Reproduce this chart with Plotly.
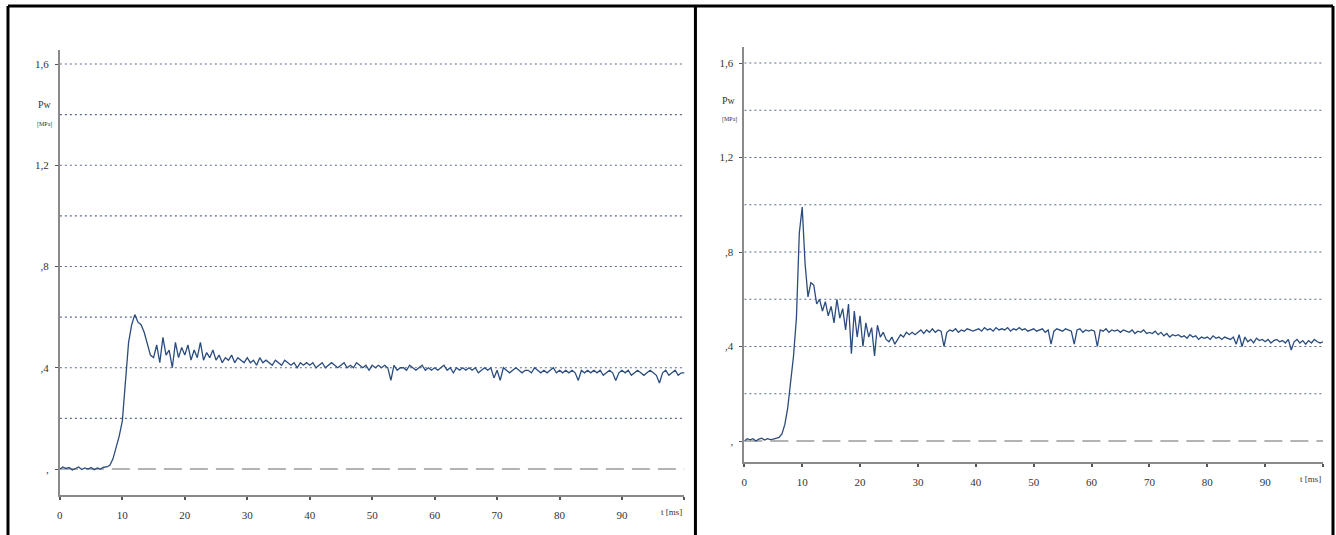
import plotly.graph_objects as go

# ---------------- data ----------------
t_ms = [i * 0.5 for i in range(201)]

pw_left = [
    0.00, 0.008, 0.002, 0.006, -0.004, 0.003, 0.008, -0.002, 0.004, 0.0,
    0.006, -0.003, 0.004, 0.0, 0.007, 0.008, 0.015, 0.04, 0.08, 0.13,
    0.19, 0.33, 0.50, 0.57, 0.61, 0.58, 0.57, 0.54, 0.49, 0.45,
    0.44, 0.49, 0.42, 0.52, 0.45, 0.47, 0.40, 0.50, 0.44, 0.48,
    0.45, 0.49, 0.43, 0.47, 0.44, 0.50, 0.43, 0.46, 0.44, 0.47,
    0.43, 0.45, 0.42, 0.44, 0.43, 0.45, 0.42, 0.44, 0.43, 0.42,
    0.44, 0.42, 0.43, 0.41, 0.44, 0.42, 0.43, 0.42, 0.41, 0.43,
    0.42, 0.41, 0.43, 0.42, 0.41, 0.42, 0.40, 0.42, 0.41, 0.42,
    0.41, 0.42, 0.40, 0.41, 0.42, 0.40, 0.41, 0.42, 0.41, 0.40,
    0.41, 0.42, 0.40, 0.41, 0.40, 0.42, 0.41, 0.40, 0.41, 0.39,
    0.41, 0.40, 0.41, 0.40, 0.41, 0.40, 0.35, 0.41, 0.39, 0.40,
    0.40, 0.39, 0.41, 0.40, 0.39, 0.40, 0.41, 0.39, 0.40, 0.39,
    0.40, 0.39, 0.40, 0.41, 0.39, 0.40, 0.38, 0.40, 0.39, 0.40,
    0.39, 0.40, 0.39, 0.40, 0.38, 0.39, 0.40, 0.39, 0.40, 0.36,
    0.39, 0.35, 0.40, 0.39, 0.38, 0.39, 0.40, 0.39, 0.38, 0.39,
    0.39, 0.38, 0.40, 0.39, 0.38, 0.39, 0.38, 0.39, 0.40, 0.38,
    0.39, 0.38, 0.39, 0.38, 0.39, 0.38, 0.35, 0.39, 0.38, 0.39,
    0.38, 0.39, 0.38, 0.39, 0.37, 0.38, 0.39, 0.38, 0.35, 0.38,
    0.39, 0.38, 0.39, 0.37, 0.38, 0.39, 0.38, 0.37, 0.38, 0.39,
    0.38, 0.37, 0.34, 0.38, 0.39, 0.37, 0.38, 0.39, 0.37, 0.38,
    0.38,
]

pw_right = [
    0.00, 0.01, 0.005, 0.01, 0.0, 0.008, 0.012, 0.004, 0.01, 0.006,
    0.008, 0.012, 0.015, 0.03, 0.07, 0.14, 0.24, 0.36, 0.52, 0.88,
    0.99, 0.75, 0.61, 0.67, 0.66, 0.58, 0.60, 0.55, 0.59, 0.53,
    0.57, 0.50, 0.60, 0.52, 0.56, 0.47, 0.58, 0.37, 0.55, 0.44,
    0.53, 0.40, 0.50, 0.44, 0.48, 0.36, 0.49, 0.44, 0.46, 0.43,
    0.42, 0.44, 0.41, 0.43, 0.45, 0.44, 0.46, 0.45, 0.46, 0.45,
    0.46, 0.47, 0.455, 0.47, 0.46, 0.475, 0.46, 0.47, 0.465, 0.40,
    0.46, 0.47, 0.465, 0.475, 0.46, 0.47, 0.465, 0.475, 0.47, 0.465,
    0.47, 0.475, 0.465, 0.48, 0.47, 0.475, 0.465, 0.48, 0.47, 0.475,
    0.47, 0.48, 0.465, 0.475, 0.47, 0.48, 0.47, 0.475, 0.465, 0.47,
    0.475, 0.465, 0.47, 0.475, 0.46, 0.47, 0.41, 0.465, 0.475, 0.47,
    0.465, 0.475, 0.47, 0.465, 0.41, 0.47, 0.475, 0.46, 0.47, 0.465,
    0.47, 0.465, 0.40, 0.47, 0.465, 0.475, 0.46, 0.47, 0.465, 0.47,
    0.46, 0.47, 0.465, 0.46, 0.47, 0.455, 0.465, 0.46, 0.47, 0.455,
    0.46, 0.455, 0.465, 0.45, 0.46, 0.445, 0.455, 0.44, 0.45, 0.445,
    0.45, 0.44, 0.445, 0.435, 0.45, 0.44, 0.445, 0.43, 0.44, 0.435,
    0.44, 0.43, 0.445, 0.435, 0.44, 0.43, 0.44, 0.435, 0.43, 0.44,
    0.41, 0.45, 0.40, 0.44, 0.42, 0.43, 0.415, 0.435, 0.425, 0.43,
    0.42, 0.43, 0.415, 0.425, 0.43, 0.42, 0.425, 0.415, 0.43, 0.385,
    0.42, 0.43, 0.415, 0.425, 0.41, 0.425, 0.415, 0.43, 0.42, 0.415,
    0.42,
]

x_tickvals = [0, 10, 20, 30, 40, 50, 60, 70, 80, 90, 100]
x_ticktext = ["0", "10", "20", "30", "40", "50", "60", "70", "80", "90", ""]
y_tickvals = [0, 0.4, 0.8, 1.2, 1.6]
y_ticktext = [",", ",4", ",8", "1,2", "1,6"]
grid_levels = [0.2, 0.4, 0.6, 0.8, 1.0, 1.2, 1.4, 1.6]

# ---------------- layout geometry ----------------
W, H = 1336, 535
def px_x(p):
    return p / W
def px_y(p):
    return (H - p) / H

panels = [
    dict(xa="x", ya="y", x0=57, x1=683, ybot=495, ytop=50, yzero=469, y16=64, data=pw_left),
    dict(xa="x2", ya="y2", x0=743, x1=1323, ybot=462, ytop=47, yzero=441, y16=63, data=pw_right),
]

fig = go.Figure()
tick_font = dict(family="Liberation Serif, DejaVu Serif, serif", size=11, color="#333333")
shapes = []
annotations = []

for i, p in enumerate(panels):
    scale = (p["yzero"] - p["y16"]) / 1.6
    ymin = -(p["ybot"] - p["yzero"]) / scale
    ymax = 1.6 + (p["y16"] - p["ytop"]) / scale
    xkey = "xaxis" if i == 0 else "xaxis2"
    ykey = "yaxis" if i == 0 else "yaxis2"
    fig.add_trace(go.Scatter(
        x=t_ms, y=p["data"], mode="lines",
        line=dict(color="#2b4c7e", width=1.3),
        xaxis=p["xa"], yaxis=p["ya"], showlegend=False,
    ))
    fig.layout[xkey] = dict(
        domain=[px_x(p["x0"]), px_x(p["x1"])],
        range=[0, 100], anchor=p["ya"],
        tickvals=x_tickvals, ticktext=x_ticktext,
        ticks="outside", ticklen=3, tickwidth=2, tickcolor="#555555",
        showline=True, linecolor="#8a8a8a", linewidth=2,
        showgrid=False, zeroline=False, tickfont=tick_font,
        ticklabelstandoff=6,
    )
    fig.layout[ykey] = dict(
        domain=[px_y(p["ybot"]), px_y(p["ytop"])],
        range=[ymin, ymax], anchor=p["xa"],
        tickvals=y_tickvals, ticktext=y_ticktext,
        ticks="outside", ticklen=3, tickwidth=1, tickcolor="#555555",
        showline=True, linecolor="#8a8a8a", linewidth=2,
        showgrid=False, zeroline=False, tickfont=tick_font,
        ticklabelstandoff=4,
    )
    for g in grid_levels:
        shapes.append(dict(type="line", xref=p["xa"], yref=p["ya"], x0=0, x1=100, y0=g, y1=g,
                           line=dict(color="#5a6b8c", width=1.2, dash="2px,3px"), layer="below"))
    shapes.append(dict(type="line", xref=p["xa"], yref=p["ya"], x0=0, x1=100, y0=0, y1=0,
                       line=dict(color="#9a9a9a", width=1.5, dash="18px,8px"), layer="below"))
    annotations.append(dict(xref=p["xa"] + " domain", yref="paper", x=1.0,
                            y=px_y(p["ybot"] + 17), xanchor="right", yanchor="middle",
                            text="t [ms]", showarrow=False, font=dict(tick_font, size=9)))
    annotations.append(dict(xref="paper", yref=p["ya"], x=px_x(p["x0"] - 15), y=1.44,
                            xanchor="center", yanchor="middle", text="Pw",
                            showarrow=False, font=dict(tick_font, size=10)))
    annotations.append(dict(xref="paper", yref=p["ya"], x=px_x(p["x0"] - 15), y=1.36,
                            xanchor="center", yanchor="middle", text="[MPa]",
                            showarrow=False, font=dict(tick_font, size=6)))

# outer frame (black)
frame_col = "#000000"
for (x0, y0, x1, y1) in [(5, 6, 1333, 6), (5, 6, 5, 535), (694, 6, 694, 535), (1333, 6, 1333, 535)]:
    shapes.append(dict(type="line", xref="paper", yref="paper",
                       x0=px_x(x0), x1=px_x(x1), y0=px_y(y0), y1=px_y(y1),
                       line=dict(color=frame_col, width=3)))

fig.update_layout(
    width=W, height=H,
    margin=dict(l=0, r=0, t=0, b=0),
    paper_bgcolor="white", plot_bgcolor="white",
    shapes=shapes, annotations=annotations,
    showlegend=False,
)

fig.write_html("out.html", config={"displayModeBar": False},
               post_script="document.body.style.margin='0px';")
